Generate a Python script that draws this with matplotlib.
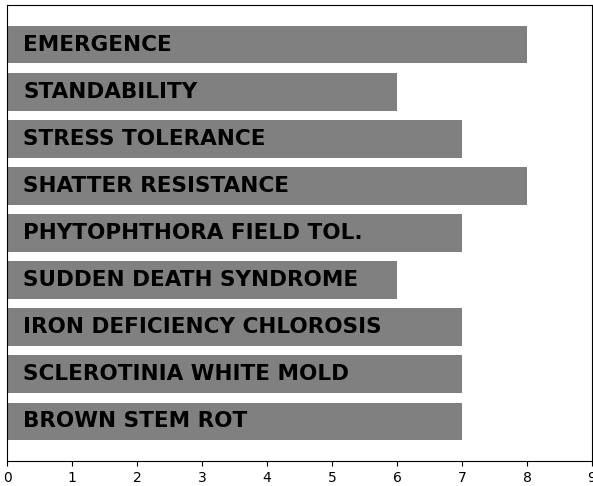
import matplotlib.pyplot as plt

# Valores (de baixo para cima)
traits = ["BROWN STEM ROT", "SCLEROTINIA WHITE MOLD", "IRON DEFICIENCY CHLOROSIS",
          "SUDDEN DEATH SYNDROME", "PHYTOPHTHORA FIELD TOL.", "SHATTER RESISTANCE",
          "STRESS TOLERANCE", "STANDABILITY", "EMERGENCE"]
scores = [7, 7, 7, 6, 7, 8, 7, 6, 8]

fig = plt.figure(figsize=(5.93, 4.86), dpi=100)
ax = fig.add_axes([7/593, 25/486, 585/593, 456/486])

ax.barh(range(len(traits)), scores, color="gray")
for i, name in enumerate(traits):
    ax.text(0.25, i, name, va="center", ha="left", fontsize=15.5,
            fontweight="bold", family="DejaVu Sans", color="black")

ax.set_xlim(0, 9)
ax.set_yticks([])
ax.set_xticks(range(10))

fig.savefig("out.png", dpi=100)
